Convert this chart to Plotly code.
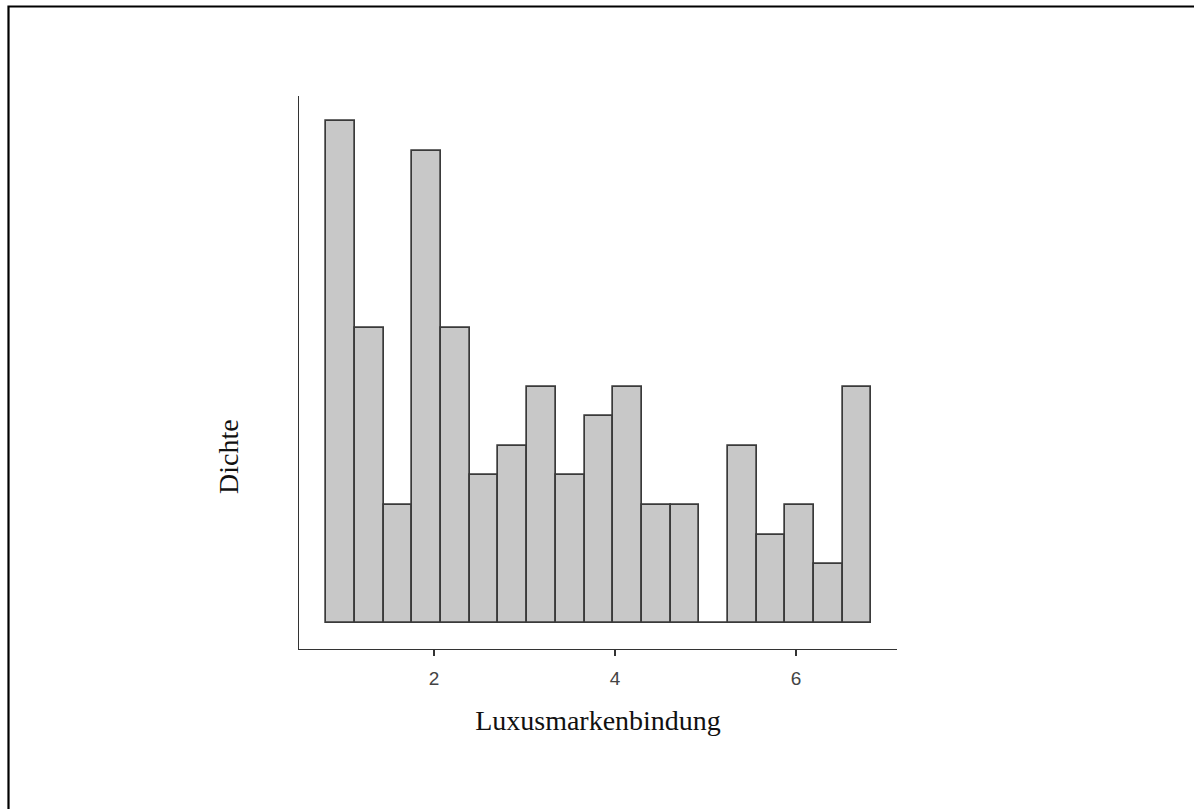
import plotly.graph_objects as go

# Histogram data
bin_start = 0.81
bin_width = 0.317
counts = [17, 10, 4, 16, 10, 5, 6, 8, 5, 7, 8, 4, 4, 0, 6, 3, 4, 2, 8]
x_ticks = [2, 4, 6]
x_title = "Luxusmarkenbindung"
y_title = "Dichte"

n_total = sum(counts)
density = [c / (n_total * bin_width) for c in counts]
centers = [bin_start + bin_width * (i + 0.5) for i in range(len(counts))]
unit = 1 / (n_total * bin_width)

fig = go.Figure(go.Bar(
    x=centers, y=density, width=bin_width,
    marker=dict(color="#c8c8c8", line=dict(color="#3a3a3a", width=1.7)),
    hoverinfo="x+y",
))

W, H = 1194, 809
L, R, T, B = 299, 297, 96, 160
pw, ph = W - L - R, H - T - B

fig.update_layout(
    width=W, height=H,
    margin=dict(l=L, r=R, t=T, b=B),
    plot_bgcolor="white", paper_bgcolor="white",
    showlegend=False,
    bargap=0,
    xaxis=dict(
        range=[0.508, 7.116], tickvals=x_ticks, showgrid=False, zeroline=False,
        showline=True, linecolor="#333333", linewidth=1.3,
        ticks="outside", ticklen=6, tickwidth=1.6, tickcolor="#333333",
        ticklabelstandoff=6,
        tickfont=dict(family="Liberation Sans, Arial, sans-serif", size=19, color="#444444"),
        title=dict(text=x_title, standoff=22,
                   font=dict(family="Liberation Serif, Times New Roman, serif", size=28, color="#111111")),
    ),
    yaxis=dict(
        range=[-0.88 * unit, 17.86 * unit], showticklabels=False, showgrid=False, zeroline=False,
        showline=True, linecolor="#333333", linewidth=1.3, ticks="",
    ),
    annotations=[dict(
        text=y_title, xref="paper", yref="paper",
        x=(228 - L) / pw, y=(H - B - 457) / ph,
        xanchor="center", yanchor="middle", textangle=-90, showarrow=False,
        font=dict(family="Liberation Serif, Times New Roman, serif", size=28, color="#111111"),
    )],
    shapes=[dict(
        type="rect", xref="paper", yref="paper",
        x0=(8.5 - L) / pw, x1=(W + 10 - L) / pw,
        y0=(H - B - (H + 10)) / ph, y1=(H - B - 6.5) / ph,
        line=dict(color="black", width=2.2), fillcolor="rgba(0,0,0,0)", layer="above",
    )],
)

fig.write_html("out.html", config={"displayModeBar": False},
               post_script="document.body.style.margin='0';document.body.style.overflow='hidden';")
